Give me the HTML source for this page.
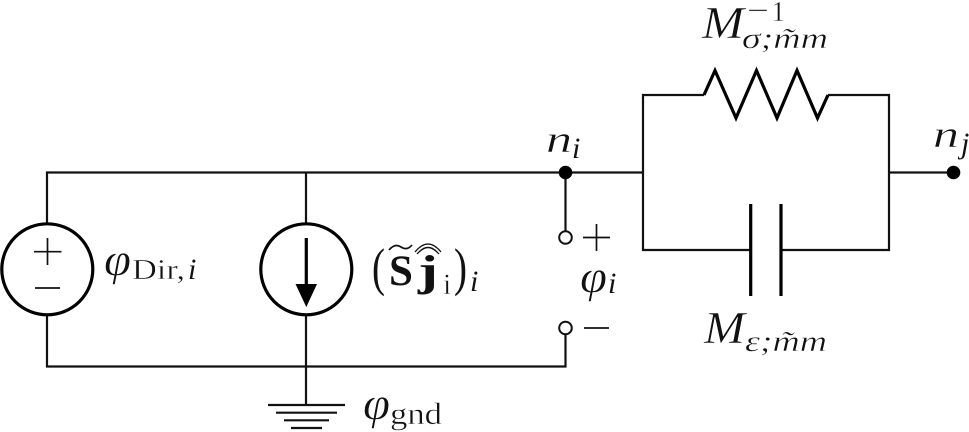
<!DOCTYPE html>
<html><head><meta charset="utf-8"><style>
html,body{margin:0;padding:0;background:#fff}
svg{display:block}
text{font-family:"Liberation Serif","DejaVu Serif",serif;fill:#111}
.i{font-style:italic}
.b{font-weight:bold}
.t{stroke:#fff;stroke-width:.45;paint-order:fill}
</style></head><body>
<svg width="969" height="432" viewBox="0 0 969 432" xmlns="http://www.w3.org/2000/svg">
<g fill="none" stroke="#111" stroke-width="2.2" stroke-linejoin="miter">
<path d="M47 223V172.5H643M889 172.5H953"/>
<path d="M47 316V366.5H565.5V335"/>
<path d="M306 172.5V223M306 316V405"/>
<path d="M565.5 172.5V231"/>
<path d="M704 95H643V250H750M781 250H889V95H828"/>
<path d="M268 405H345M276 412.7H337M284 420.3H329M291 428H322"/>
<path d="M34 251.7H61.5M47.5 238V265M35 288H60M583 237.5H610M596.5 224V251M584 328H609" stroke-width="1.7"/>
</g>
<g fill="none" stroke="#000" stroke-width="3.2">
<circle cx="47.3" cy="269.3" r="45.5"/>
<circle cx="306.3" cy="269.3" r="45.5"/>
<path d="M704 95L715 70.5L736 118L756.5 70.5L777 118L797 70.5L817.5 118L828 95"/>
<path d="M750.7 204V296M781 204V296"/>
<path d="M306.3 238V290"/>
</g>
<path d="M295.5 284H317L306.3 307Z" fill="#000"/>
<circle cx="565.5" cy="172.5" r="6.8" fill="#000"/>
<circle cx="953.5" cy="172.5" r="6.8" fill="#000"/>
<circle cx="565.5" cy="237.5" r="6.3" fill="#fff" stroke="#111" stroke-width="2"/>
<circle cx="565.5" cy="328" r="6.3" fill="#fff" stroke="#111" stroke-width="2"/>

<text class="i t" x="104" y="275" font-size="46" textLength="27" lengthAdjust="spacingAndGlyphs">φ</text>
<text class="t" x="132" y="279" font-size="29" textLength="53" lengthAdjust="spacingAndGlyphs">Dir,</text>
<text class="i" x="188" y="279" font-size="30">i</text>

<text transform="translate(372 285) scale(1 1.4)" font-size="38" textLength="13" lengthAdjust="spacingAndGlyphs">(</text>
<text class="b" x="389" y="285" font-size="43">S</text>
<path d="M389 250Q395 243 401 247T412 245" fill="none" stroke="#111" stroke-width="1.7"/>
<text class="b" x="418" y="285" font-size="43" textLength="20" lengthAdjust="spacingAndGlyphs">j</text>
<path d="M417 254Q428 241 439 254M419 252Q428 243 437 252M415 252Q428 236 441 252" fill="none" stroke="#111" stroke-width="1.3"/>
<text class="t" x="443" y="294" font-size="30">i</text>
<text transform="translate(454 285) scale(1 1.4)" font-size="38" textLength="13" lengthAdjust="spacingAndGlyphs">)</text>
<text class="i" x="470" y="291" font-size="30">i</text>

<text class="i t" x="702" y="38" font-size="46" textLength="42" lengthAdjust="spacingAndGlyphs">M</text>
<text class="t" x="747" y="21" font-size="32" textLength="22" lengthAdjust="spacingAndGlyphs">−</text>
<text class="t" x="771" y="21" font-size="29">1</text>
<text class="i t" x="742" y="48" font-size="30" textLength="86" lengthAdjust="spacingAndGlyphs">σ;m̃m</text>

<text class="i t" x="546" y="152" font-size="38" textLength="26" lengthAdjust="spacingAndGlyphs">n</text>
<text class="i" x="572" y="158" font-size="30">i</text>
<text class="i t" x="933" y="147" font-size="38" textLength="26" lengthAdjust="spacingAndGlyphs">n</text>
<text class="i" x="961" y="153" font-size="30">j</text>

<text class="i t" x="580" y="292" font-size="46" textLength="27" lengthAdjust="spacingAndGlyphs">φ</text>
<text class="i" x="608" y="293" font-size="30">i</text>

<text class="i t" x="704" y="343" font-size="46" textLength="41" lengthAdjust="spacingAndGlyphs">M</text>
<text class="i t" x="745" y="351" font-size="30" textLength="82" lengthAdjust="spacingAndGlyphs">ε;m̃m</text>

<text class="i t" x="363" y="419" font-size="46" textLength="27" lengthAdjust="spacingAndGlyphs">φ</text>
<text class="t" x="390" y="424" font-size="31" textLength="52" lengthAdjust="spacingAndGlyphs">gnd</text>
</svg>
</body></html>
